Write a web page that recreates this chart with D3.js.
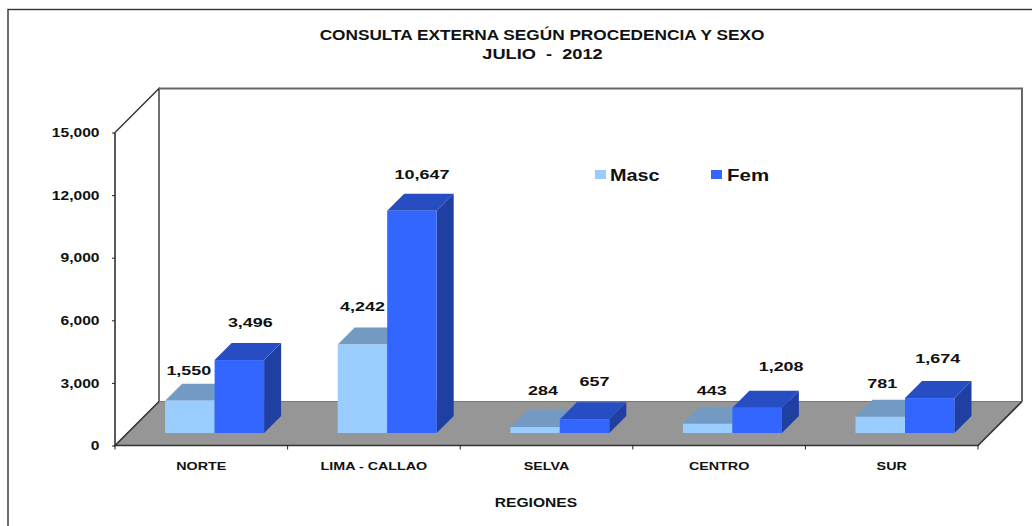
<!DOCTYPE html>
<html><head><meta charset="utf-8">
<script src="https://cdn.jsdelivr.net/npm/d3@7/dist/d3.min.js"></script>
<style>html,body{margin:0;padding:0;background:#fff;overflow:hidden}svg{display:block}text{font-family:"Liberation Sans",Arial,sans-serif;font-weight:bold;fill:#111;white-space:pre}</style>
</head><body><script>
const categories = ["NORTE","LIMA - CALLAO","SELVA","CENTRO","SUR"];
const masc = [1550,4242,284,443,781];
const fem = [3496,10647,657,1208,1674];
const yTicks = [0,3000,6000,9000,12000,15000];
const seriesNames = ["Masc","Fem"];
const titleLines = ["CONSULTA EXTERNA SEGÚN PROCEDENCIA Y SEXO","JULIO  -  2012"];
const xTitle = "REGIONES";

const W=1032,H=526;
const svg=d3.select("body").append("svg").attr("width",W).attr("height",H);
const x=d3.scaleBand().domain(categories).range([115,978]);
const y=d3.scaleLinear().domain([0,15000]).range([445.5,132.5]);
const depth=44, barOff=12.5, barDepth=17, barW=49.5;
const cols={Masc:{front:"#99ccff",top:"#739ac2",side:"#6a8fb5"},Fem:{front:"#3366ff",top:"#264dc2",side:"#1f3fa3"}};
const poly=p=>p.map(d=>d.join(",")).join(" ");
// the reference's text is horizontally stretched; widen each text by factor k
function stretch(sel,k){sel.each(function(){const n=this.getComputedTextLength();this.setAttribute("textLength",n*k);this.setAttribute("lengthAdjust","spacingAndGlyphs");});return sel;}

svg.append("rect").attr("x",8).attr("y",9.5).attr("width",1060).attr("height",560).attr("fill","none").attr("stroke","#333").attr("stroke-width",1.4);

// back wall & floor
const y0=y(0), yT=y(15000), xL=115, xR=978;
svg.append("polygon").attr("points",poly([[xL,y0],[xR,y0],[xR+depth,y0-depth],[xL+depth,y0-depth]])).attr("fill","#969696");
svg.append("path").attr("d",`M${xL},${yT}L${xL+depth},${yT-depth}V${y0-depth}`).attr("fill","none").attr("stroke","#333").attr("stroke-width",1.4);
svg.append("path").attr("d",`M${xL+depth},${yT-depth}H${xR+depth}V${y0-depth}`).attr("fill","none").attr("stroke","#666").attr("stroke-width",2);
svg.append("line").attr("x1",xL+depth).attr("x2",xR+depth).attr("y1",y0-depth).attr("y2",y0-depth).attr("stroke","#777").attr("stroke-width",1.2);
svg.append("path").attr("d",`M${xL},${yT}V${y0}L${xL+depth},${y0-depth}M${xL},${y0}H${xR}L${xR+depth},${y0-depth}`).attr("fill","none").attr("stroke","#333").attr("stroke-width",1.6);

// axes
const yAxis=d3.axisLeft(y).tickValues(yTicks).tickFormat(d3.format(",")).tickSize(3).tickPadding(12.5);
const gy=svg.append("g").attr("transform",`translate(${xL},0)`).call(yAxis);
gy.select(".domain").remove();
gy.selectAll("line").attr("stroke","#222");
gy.selectAll("text").attr("font-size",13).attr("fill","#111").style("font-family",'"Liberation Sans",Arial,sans-serif').style("font-weight","bold").call(stretch,1.2);
const xEdges=[...categories.map(c=>x(c)),xR];
svg.selectAll(".xt").data(xEdges).join("line").attr("x1",d=>d).attr("x2",d=>d).attr("y1",y0).attr("y2",y0+4).attr("stroke","#222");
svg.selectAll(".xl").data(categories).join("text").attr("x",d=>x(d)+x.bandwidth()/2).attr("y",470).attr("text-anchor","middle").attr("font-size",11).text(d=>d).call(stretch,1.3);

// bars
function bar(g,cx,w,v,c){
  const by=y0-barOff, h=y0-y(v), t=by-h;
  g.append("polygon").attr("points",poly([[cx+w,by],[cx+w+barDepth,by-barDepth],[cx+w+barDepth,t-barDepth],[cx+w,t]])).attr("fill",c.side);
  g.append("polygon").attr("points",poly([[cx,t],[cx+barDepth,t-barDepth],[cx+w+barDepth,t-barDepth],[cx+w,t]])).attr("fill",c.top);
  g.append("rect").attr("x",cx).attr("y",t).attr("width",w).attr("height",h).attr("fill",c.front);
  return t;
}
const labelNudge={Masc:[[-1,-31],[0,-38],[8,-37],[4,-34],[2,-34]],Fem:[[11,-38],[10,-37],[10,-38],[24,-42],[8,-40]]};
categories.forEach((c,i)=>{
  const g=svg.append("g");
  const start=x(c)+x.bandwidth()/2+13.3-barW;
  const tm=bar(g,start,barW,masc[i],cols.Masc);
  const tf=bar(g,start+barW,barW,fem[i],cols.Fem);
  [[masc[i],tm,start,"Masc"],[fem[i],tf,start+barW,"Fem"]].forEach(([v,t,sx,n])=>{
    const nd=labelNudge[n][i];
    svg.append("text").attr("x",sx+barW/2+nd[0]).attr("y",t+nd[1]+5).attr("text-anchor","middle").attr("font-size",13).text(d3.format(",")(v)).call(stretch,1.38);
  });
});

// legend
const lx=[595,711], ltx=[610,727], lk=[1.2,1.24];
seriesNames.forEach((n,i)=>{
  svg.append("rect").attr("x",lx[i]).attr("y",170).attr("width",11).attr("height",9).attr("fill",cols[n].front);
  svg.append("text").attr("x",ltx[i]).attr("y",181).attr("font-size",16.5).text(n).call(stretch,lk[i]);
});
// titles
titleLines.forEach((t,i)=>svg.append("text").attr("x",[542,542.5][i]).attr("y",[40,59][i]).attr("text-anchor","middle").attr("font-size",14).text(t).call(stretch,[1.23,1.3][i]));
svg.append("text").attr("x",536).attr("y",507).attr("text-anchor","middle").attr("font-size",12).text(xTitle).call(stretch,1.3);
</script></body></html>
